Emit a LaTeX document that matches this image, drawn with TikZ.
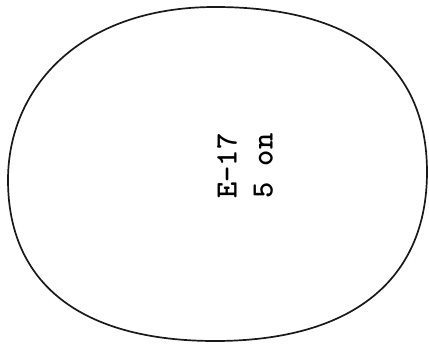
\documentclass[tikz,border=0pt]{standalone}
\usepackage{fontspec}
\begin{document}
\begin{tikzpicture}[x=1pt,y=-1pt,
  outline/.style={draw=black!90,line width=1.7pt},
  label/.style={rotate=90,align=center,inner sep=0pt,font=\ttfamily\bfseries\fontsize{31}{36}\selectfont}]
\useasboundingbox (0,0) rectangle (429,345);
\draw[outline] (215,7) .. controls (355,7) and (427,66) .. (427,172)
  .. controls (427,280) and (352,341) .. (215,341)
  .. controls (80,341) and (8,283) .. (8,180)
  .. controls (8,88) and (80,7) .. (215,7) -- cycle;
\node[label] (t) at (245,166) {E-17\\5 on};
\end{tikzpicture}
\end{document}
